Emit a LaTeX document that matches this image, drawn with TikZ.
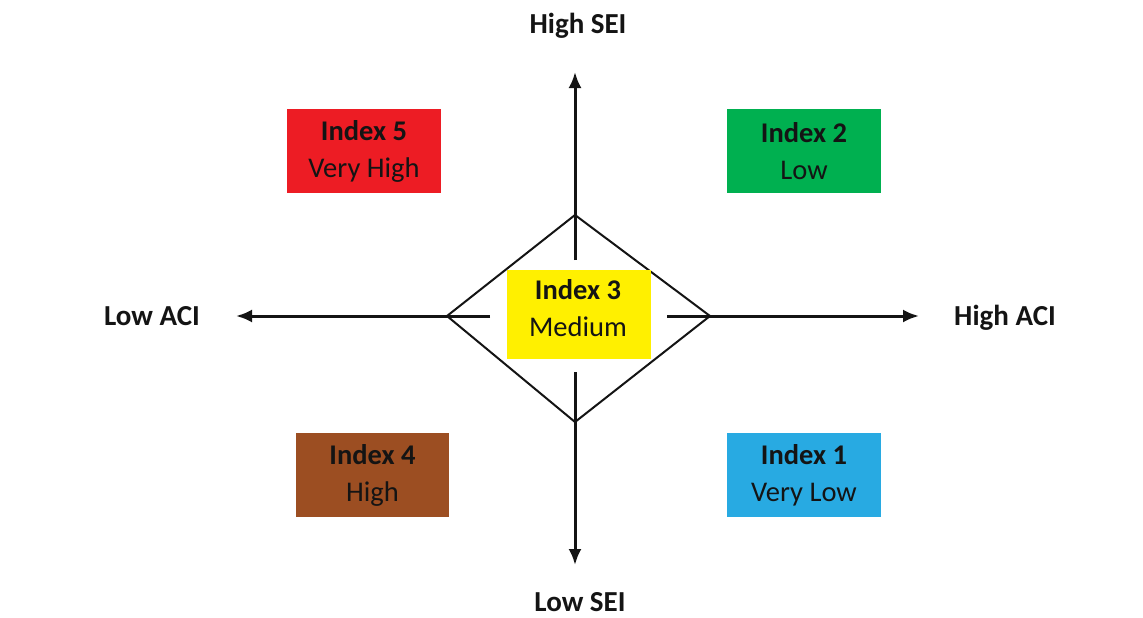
\documentclass[tikz,border=0pt]{standalone}
\usepackage{fontspec}
\setmainfont{Carlito}
\usetikzlibrary{arrows.meta}
\definecolor{boxred}{RGB}{237,28,36}
\definecolor{boxgreen}{RGB}{0,176,80}
\definecolor{boxyellow}{RGB}{255,240,0}
\definecolor{boxbrown}{RGB}{156,78,34}
\definecolor{boxblue}{RGB}{40,170,226}
\definecolor{ink}{RGB}{20,20,20}
\tikzset{
  idx/.style={minimum width=154pt, minimum height=84pt, inner sep=0pt, align=center,
    text=ink, font=\fontsize{28.5}{37}\selectfont},
  axislabel/.style={font=\fontsize{29}{32}\selectfont\bfseries, text=ink, inner sep=0pt, anchor=base},
  axis/.style={line width=3pt, draw=ink},
  axisarrow/.style={axis, -{Latex[length=16pt,width=13pt]}},
  diamondline/.style={line width=2pt, draw=ink, line join=miter}
}
\begin{document}
\begin{tikzpicture}[x=1pt,y=-1pt]
\useasboundingbox (0,0) rectangle (1143,618);
% diamond
\coordinate (dT) at (575,215);
\coordinate (dR) at (710,316);
\coordinate (dB) at (575,422);
\coordinate (dL) at (447,316);
\draw[diamondline] (dT) -- (dR) -- (dB) -- (dL) -- cycle;
% axis coordinates
\coordinate (vTs) at (575,260);
\coordinate (vTe) at (575,72);
\coordinate (vBs) at (575,372);
\coordinate (vBe) at (575,565);
\coordinate (hLs) at (490,316);
\coordinate (hLe) at (236,316);
\coordinate (hRs) at (667,316);
\coordinate (hRe) at (919,316);
\draw[axisarrow] (vTs) -- (vTe);
\draw[axisarrow] (vBs) -- (vBe);
\draw[axisarrow] (hLs) -- (hLe);
\draw[axisarrow] (hRs) -- (hRe);
% boxes
\node[idx, fill=boxred] (i5) at (364,151) {\textbf{Index 5}\\Very High};
\node[idx, fill=boxgreen] (i2) at (804,151) {\textbf{Index 2}\\Low};
\node[idx, fill=boxbrown, minimum width=153pt] (i4) at (372.5,475) {\textbf{Index 4}\\High};
\node[idx, fill=boxblue] (i1) at (804,475) {\textbf{Index 1}\\Very Low};
\node[idx, fill=boxyellow, minimum width=144pt, minimum height=89pt] (i3) at (579,314.5) {};
\node[idx, minimum width=0pt, minimum height=0pt] (i3t) at (578,308) {\textbf{Index 3}\\Medium};
% axis labels
\node[axislabel] (hsei) at (578,34) {High SEI};
\node[axislabel] (lsei) at (580,611) {Low SEI};
\node[axislabel] (laci) at (152,325) {Low ACI};
\node[axislabel] (haci) at (1005,325) {High ACI};
\end{tikzpicture}
\end{document}
